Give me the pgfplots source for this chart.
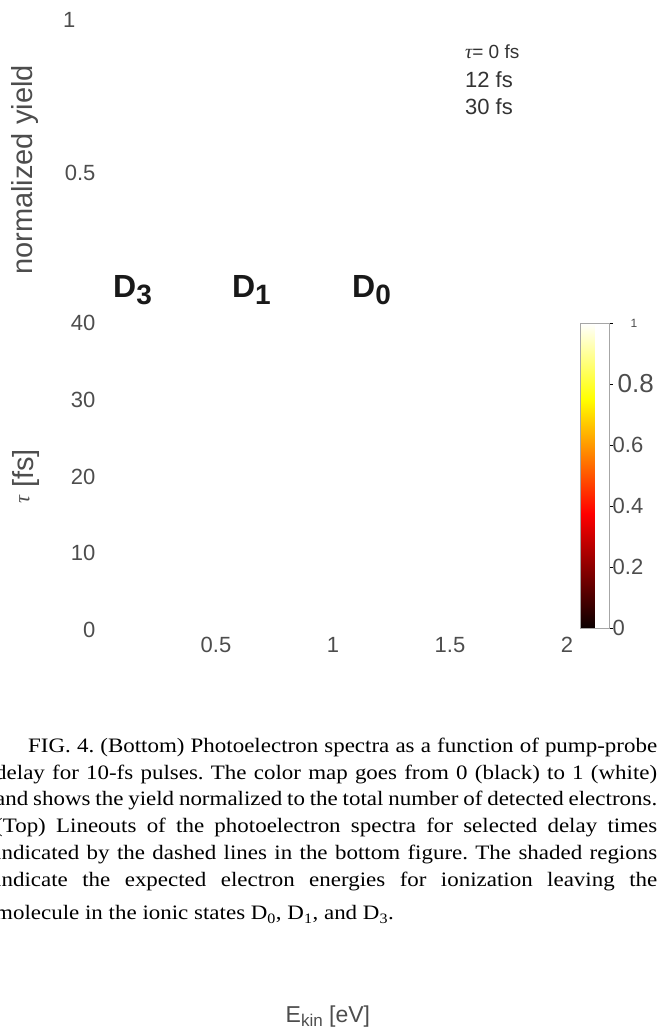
\documentclass[border=0pt]{standalone}
\usepackage{fontspec}
\setmainfont{Liberation Sans}
\newfontfamily\capfont[FakeStretch=1.12]{Liberation Serif}
\newfontfamily\grk{Liberation Serif}
\usepackage{pgfplots}
\pgfplotsset{compat=1.18}
\definecolor{tickgray}{RGB}{77,77,77}
\definecolor{legdark}{RGB}{51,51,51}
\newcommand{\fs}[1]{\fontsize{#1}{#1}\selectfont}
\frenchspacing

\begin{document}
\begin{tikzpicture}[x=1pt,y=1pt]
\useasboundingbox (0,0) rectangle (659,1029);

% top panel: lineouts (lines missing in the reference, only text left)
\begin{axis}[
  at={(99pt,703pt)}, anchor=south west,
  scale only axis, width=468pt, height=306pt,
  xmin=0, xmax=2, ymin=0, ymax=1,
  xtick=\empty, ytick={0.5,1}, yticklabels={0.5,{1\hspace*{20pt}}},
  axis line style={draw=none}, tick style={draw=none},
  clip=false,
  tick label style={font=\fs{22}, text=tickgray},
  ylabel={normalized yield},
  ylabel style={at={(axis description cs:-0.158,0.51)}, anchor=center, font=\fs{29}, text=tickgray},
]
\addplot[draw=none, forget plot] coordinates {(0,0) (2,1)};
\node[anchor=base west, inner sep=0, font=\fs{32}\bfseries, text=black!90] at (axis cs:0.060,0.0915) {D\raisebox{-7pt}{\fs{28}3}};
\node[anchor=base west, inner sep=0, font=\fs{32}\bfseries, text=black!90] at (axis cs:0.568,0.0915) {D\raisebox{-7pt}{\fs{28}1}};
\node[anchor=base west, inner sep=0, font=\fs{32}\bfseries, text=black!90] at (axis cs:1.081,0.0915) {D\raisebox{-7pt}{\fs{28}0}};
\node[anchor=west, inner sep=0, text=legdark] at (axis cs:1.564,0.895) {{\grk\itshape\fs{20}τ}\fs{19}= 0 fs};
\node[anchor=west, inner sep=0, text=legdark, font=\fs{22}] at (axis cs:1.564,0.804) {12 fs};
\node[anchor=west, inner sep=0, text=legdark, font=\fs{22}] at (axis cs:1.564,0.716) {30 fs};
\end{axis}

% bottom panel: delay map with hot colour bar
\begin{axis}[
  at={(99pt,399pt)}, anchor=south west,
  scale only axis, width=468pt, height=307pt,
  xmin=0, xmax=2, ymin=0, ymax=40,
  xtick={0.5,1,1.5,2}, ytick={0,10,20,30,40},
  axis line style={draw=none}, tick style={draw=none},
  clip=false,
  /pgf/number format/assume math mode=true,
  tick label style={font=\fs{22}, text=tickgray},
  xticklabel style={yshift=-4pt},
  ylabel={\raisebox{4pt}{\grk\itshape\fs{22}τ} [fs]},
  ylabel style={at={(axis description cs:-0.156,0.50)}, anchor=center, font=\fs{29}, text=tickgray},
  xlabel={E\raisebox{-4pt}{\fs{17}kin} [eV]},
  xlabel style={at={(axis description cs:0.489,-1.277)}, anchor=base, font=\fs{23}, text=tickgray},
  colormap={hot}{rgb(0pt)=(0.0417,0,0) rgb(3pt)=(1,0,0) rgb(6pt)=(1,1,0) rgb(8pt)=(1,1,1)},
  point meta min=0, point meta max=1,
  colorbar,
  colorbar style={
    at={(parent axis.north east)}, anchor=north west, xshift=5pt,
    width=29pt, height=305pt,
    ytick={0,0.2,0.4,0.6,0.8,1},
    yticklabels={0,0.2,0.4,0.6,{\hspace*{5pt}\fs{26}0.8},{\hspace*{18pt}\fs{12}1}},
    yticklabel style={font=\fs{22}, text=tickgray, inner sep=0pt},
    ytick pos=right,
    axis line style={draw=gray!70, line width=0.5pt},
    ytick style={draw=black, line width=0.6pt},
    major tick length=3pt, tick align=outside,
  },
]
\addplot[draw=none, forget plot] coordinates {(0,0) (2,40)};
\end{axis}

% caption
\begin{scope}[every node/.style={anchor=base west, inner sep=0, font=\capfont\fs{20.5}}]
\node at (28,276) {\makebox[629pt][s]{FIG. 4. (Bottom) Photoelectron spectra as a function of pump-probe}};
\node at (-5,249) {\makebox[662pt][s]{delay for 10-fs pulses. The color map goes from 0 (black) to 1 (white)}};
\node at (-5,223) {\makebox[662pt][s]{and shows the yield normalized to the total number of detected electrons.}};
\node at (-5,196) {\makebox[662pt][s]{(Top) Lineouts of the photoelectron spectra for selected delay times}};
\node at (-5,169) {\makebox[662pt][s]{indicated by the dashed lines in the bottom figure. The shaded regions}};
\node at (-5,142) {\makebox[662pt][s]{indicate the expected electron energies for ionization leaving the}};
\node at (-5,109) {molecule in the ionic states D\textsubscript{0}, D\textsubscript{1}, and D\textsubscript{3}.};
\end{scope}
\end{tikzpicture}
\end{document}
